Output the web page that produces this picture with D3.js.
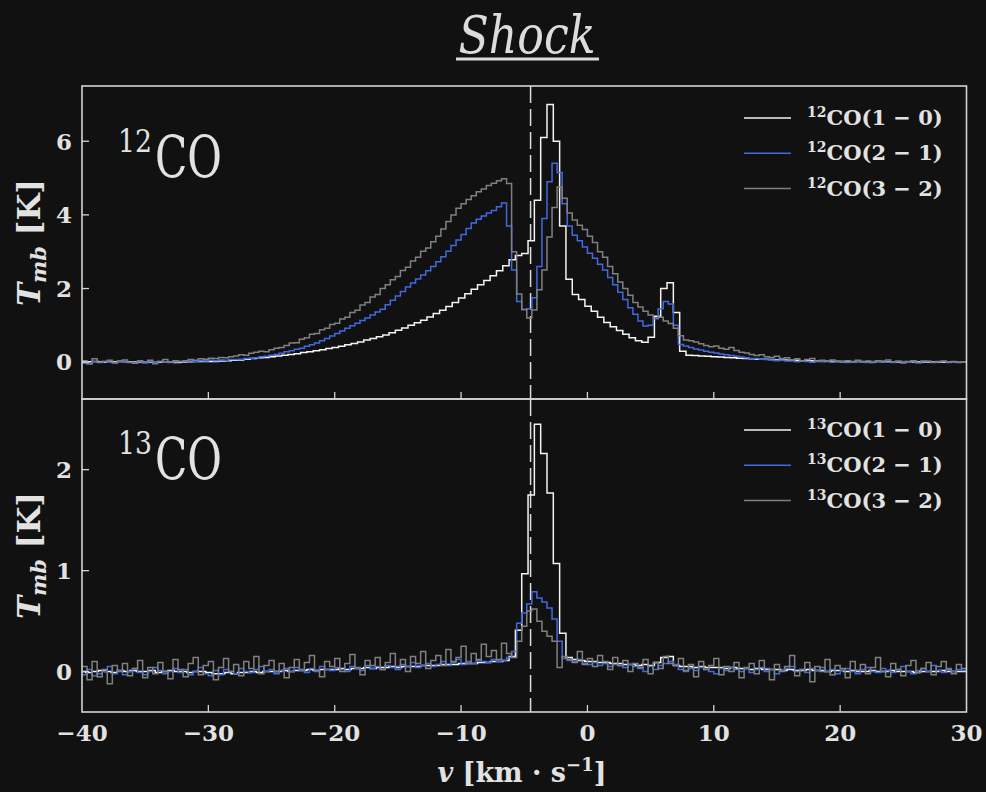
<!DOCTYPE html>
<html><head><meta charset="utf-8">
<script src="https://cdn.jsdelivr.net/npm/d3@7"></script>
<style>html,body{margin:0;padding:0;background:#111111;} svg{display:block;}</style>
</head><body><div id="chart"></div>
<script>
// ---------------- DATA ----------------
const titleText = "Shock";
const xDomain = [-40, 30];
const xTicks = [-40, -30, -20, -10, 0, 10, 20, 30];
const vSystemic = -4.5;            // dashed reference velocity (km/s)

// channel grids (velocity of first channel edge, channel width in km/s)
const grid10 = {start: -40.2, width: 0.5};   // (1-0) spectra
const gridHi = {start: -40.0, width: 0.4};   // (2-1) and (3-2) spectra

const yDomain12 = [-1, 7.5];
const yTicks12 = [0, 2, 4, 6];
const yDomain13 = [-0.4, 2.7];
const yTicks13 = [0, 1, 2];

const seriesNames12 = ["CO(1 \u2212 0)", "CO(2 \u2212 1)", "CO(3 \u2212 2)"];
const seriesNames13 = ["CO(1 \u2212 0)", "CO(2 \u2212 1)", "CO(3 \u2212 2)"];
const seriesColors = ["#f4f4f4", "#4169e1", "#808080"];

const co12_10 = [
0.02,0.01,0.02,0.01,0.00,0.01,0.02,0.01,0.01,0.00,
0.01,0.00,0.00,0.01,0.00,-0.01,0.00,0.01,0.02,0.02,
0.02,0.02,0.03,0.04,0.05,0.06,0.08,0.10,0.12,0.13,
0.15,0.17,0.19,0.21,0.23,0.26,0.28,0.31,0.34,0.37,
0.40,0.43,0.47,0.51,0.55,0.60,0.64,0.69,0.74,0.80,
0.87,0.93,1.00,1.07,1.14,1.23,1.32,1.41,1.51,1.62,
1.74,1.86,1.98,2.10,2.22,2.35,2.48,2.62,2.78,2.90,
2.95,3.30,4.40,6.10,7.00,6.00,3.70,2.25,1.84,1.70,
1.52,1.38,1.22,1.08,0.96,0.86,0.76,0.66,0.58,0.54,
0.68,1.25,2.00,2.16,1.35,0.30,0.19,0.18,0.17,0.16,
0.15,0.14,0.13,0.12,0.11,0.10,0.09,0.08,0.08,0.07,
0.06,0.06,0.05,0.05,0.04,0.04,0.03,0.03,0.03,0.02,
0.02,0.02,0.01,0.02,0.01,0.01,0.02,0.01,0.01,0.00,
0.01,0.00,0.01,0.00,0.00,0.01,0.00,0.00,0.01,0.00,0.00,0.00];

const co12_21 = [
-0.03,-0.02,0.01,-0.01,0.02,0.00,-0.01,0.01,0.02,-0.01,
0.00,0.01,-0.02,0.01,0.00,0.02,0.01,-0.01,0.01,0.02,
0.01,0.03,0.02,0.04,0.03,0.05,0.04,0.06,0.05,0.07,
0.07,0.08,0.10,0.11,0.12,0.15,0.16,0.19,0.21,0.24,
0.28,0.31,0.35,0.38,0.43,0.47,0.52,0.58,0.64,0.71,
0.78,0.85,0.92,0.99,1.06,1.13,1.20,1.28,1.36,1.44,
1.56,1.68,1.80,1.92,2.04,2.15,2.26,2.37,2.48,2.60,
2.73,2.86,3.01,3.17,3.32,3.47,3.63,3.78,3.88,3.97,
4.05,4.12,4.22,4.32,3.70,2.50,1.65,1.43,1.45,1.75,
2.60,3.90,4.90,5.40,5.15,4.30,3.70,3.45,3.30,3.13,
2.96,2.82,2.66,2.50,2.30,2.10,1.90,1.70,1.48,1.30,
1.12,0.98,1.00,1.18,1.45,1.65,1.58,1.00,0.48,0.44,
0.40,0.36,0.33,0.30,0.27,0.25,0.22,0.20,0.18,0.16,
0.14,0.12,0.10,0.10,0.08,0.07,0.06,0.04,0.05,0.03,
0.03,0.01,0.03,0.02,0.00,0.02,0.01,0.03,0.00,0.01,
0.02,-0.01,0.01,0.02,0.00,-0.01,0.02,0.01,0.03,0.00,
-0.01,0.01,0.02,0.00,0.01,-0.02,0.01,0.03,0.00,0.01,
0.02,-0.01,0.00,0.01,0.00];

const co12_32 = [
0.04,-0.05,0.09,0.00,0.02,0.05,-0.02,0.03,0.06,0.00,
-0.03,0.04,0.01,0.05,-0.04,0.02,0.07,0.00,0.04,0.02,
0.04,0.07,0.05,0.09,0.08,0.11,0.10,0.13,0.12,0.15,
0.17,0.20,0.19,0.24,0.27,0.30,0.28,0.34,0.38,0.40,
0.45,0.52,0.53,0.62,0.66,0.76,0.78,0.88,0.92,1.02,
1.06,1.17,1.22,1.35,1.41,1.55,1.62,1.77,1.84,2.00,
2.10,2.24,2.33,2.49,2.58,2.75,2.85,3.01,3.10,3.27,
3.42,3.62,3.82,4.00,4.18,4.30,4.42,4.52,4.63,4.70,
4.80,4.86,4.93,4.98,4.85,3.00,1.85,1.43,1.20,1.42,
1.97,2.50,3.40,4.20,4.76,4.45,4.05,3.86,3.72,3.60,
3.42,3.25,3.00,2.85,2.60,2.40,2.18,2.00,1.82,1.62,
1.50,1.38,1.28,1.20,1.22,1.12,1.05,0.92,0.72,0.60,
0.58,0.55,0.50,0.45,0.42,0.44,0.38,0.35,0.40,0.32,
0.27,0.25,0.21,0.18,0.20,0.15,0.13,0.16,0.10,0.12,
0.06,0.09,0.04,0.07,0.10,0.03,0.05,0.02,0.06,0.03,
0.00,0.04,0.02,0.05,0.01,0.03,-0.01,0.04,0.02,0.06,
0.01,0.03,-0.02,0.02,0.04,0.00,0.03,0.01,-0.01,0.02,
0.03,0.00,0.02,-0.01,0.01];

const co13_10 = [
0.00,-0.01,0.00,0.01,0.00,-0.01,0.01,0.00,0.01,0.00,
0.00,0.01,-0.01,0.00,0.01,0.00,0.00,-0.01,0.00,0.00,
-0.01,-0.02,-0.02,-0.01,-0.02,-0.01,-0.01,0.00,-0.01,0.00,
0.00,0.00,0.01,0.00,0.01,0.01,0.02,0.01,0.02,0.02,
0.02,0.03,0.02,0.03,0.03,0.04,0.03,0.04,0.04,0.05,
0.04,0.05,0.05,0.05,0.06,0.06,0.06,0.07,0.07,0.07,
0.08,0.08,0.08,0.09,0.09,0.10,0.10,0.11,0.15,0.41,
0.97,1.75,2.45,2.16,1.77,1.07,0.38,0.14,0.12,0.11,
0.10,0.10,0.09,0.09,0.08,0.08,0.07,0.07,0.06,0.07,
0.06,0.09,0.14,0.15,0.06,0.05,0.05,0.04,0.05,0.04,
0.04,0.04,0.03,0.04,0.03,0.03,0.02,0.03,0.02,0.02,
0.02,0.01,0.02,0.01,0.01,0.02,0.01,0.01,0.00,0.01,
0.01,0.00,0.01,0.00,0.00,0.01,0.00,0.00,0.01,0.00,
0.00,0.00,-0.01,0.00,0.00,0.00,0.01,0.00,0.00,0.00,0.00,0.00];

const co13_21 = [
-0.03,0.02,-0.04,-0.02,0.00,0.05,-0.02,0.01,-0.03,0.00,
0.03,-0.01,-0.03,0.00,0.04,0.01,-0.02,0.00,0.03,-0.01,
0.02,-0.03,0.00,0.04,-0.02,-0.04,0.01,-0.03,0.02,0.00,
-0.02,0.03,0.00,-0.01,0.02,0.05,0.00,0.02,-0.02,0.01,
0.03,0.00,0.04,0.01,-0.01,0.03,0.00,0.05,0.02,0.01,
0.04,0.02,0.00,0.05,0.03,0.01,0.06,0.03,0.05,0.02,
0.06,0.04,0.02,0.07,0.05,0.09,0.04,0.06,0.08,0.05,
0.07,0.10,0.06,0.09,0.12,0.07,0.10,0.08,0.11,0.10,
0.09,0.12,0.10,0.11,0.14,0.20,0.48,0.58,0.67,0.79,
0.73,0.69,0.63,0.52,0.30,0.13,0.11,0.10,0.12,0.08,
0.07,0.09,0.06,0.08,0.05,0.07,0.06,0.04,0.07,0.05,
0.03,0.00,0.05,0.02,0.06,0.08,0.10,0.07,0.02,0.00,
0.03,0.01,0.04,0.02,0.00,-0.02,0.03,0.01,0.04,0.02,
0.00,0.03,-0.01,0.02,0.04,0.00,0.02,-0.02,0.01,0.03,
0.05,0.00,0.02,-0.01,0.03,0.01,0.04,0.00,0.02,-0.02,
0.01,0.03,0.00,-0.02,0.02,0.04,0.00,-0.01,0.03,0.01,
-0.01,0.02,0.05,0.00,-0.02,0.01,0.03,0.00,0.06,0.01,
-0.01,0.03,0.00,0.02,0.01];

const co13_32 = [
0.05,-0.08,0.10,-0.05,0.02,-0.12,0.06,0.00,0.08,-0.04,
0.03,0.11,-0.06,0.04,-0.02,0.09,0.00,-0.07,0.12,0.02,
-0.05,0.08,0.14,-0.03,0.06,0.10,-0.08,0.04,0.13,0.00,
0.07,-0.04,0.10,0.03,0.15,-0.02,0.06,0.11,0.00,0.08,
-0.06,0.04,0.12,0.02,0.09,0.16,0.01,-0.05,0.10,0.05,
0.13,0.00,0.08,0.17,0.04,-0.03,0.11,0.06,0.14,0.02,
0.09,0.18,0.05,0.12,0.00,0.15,0.08,0.20,0.03,0.11,
0.16,0.06,0.22,0.10,0.14,0.25,0.08,0.18,0.12,0.27,
0.15,0.21,0.12,0.28,0.18,0.14,0.30,0.45,0.60,0.62,
0.50,0.40,0.35,0.30,0.04,0.15,0.12,0.09,0.20,0.07,
0.13,0.05,0.16,0.10,0.02,0.14,0.06,0.11,0.00,0.08,
0.04,0.12,-0.02,0.09,0.03,0.15,0.08,0.06,0.13,0.01,
0.07,-0.05,0.10,0.02,0.06,0.13,-0.03,0.05,0.00,0.09,
-0.06,0.04,0.08,-0.02,0.11,0.03,-0.08,0.07,0.00,0.05,
0.16,-0.04,0.02,0.09,-0.10,0.05,0.00,0.12,-0.03,0.06,
0.03,-0.06,0.10,0.01,0.07,-0.02,0.04,0.14,0.00,-0.05,
0.08,0.02,-0.04,0.06,0.11,-0.01,0.03,0.09,-0.03,0.05,
0.10,0.02,-0.02,0.07,0.03];

// ---------------- DRAWING ----------------
const W = 986, H = 792;
const SERIF = "'DejaVu Serif', serif";
const TEXT = "#e2e2e2";
const FRAME = "#d4d4d4";

const svg = d3.select('#chart').append('svg').attr('width', W).attr('height', H);
svg.append('rect').attr('width', W).attr('height', H).attr('fill', '#111111');

const left = 82, right = 966.5;
const x = d3.scaleLinear().domain(xDomain).range([left, right]);

function toSteps(grid, vals) {
  const pts = vals.map((v, i) => [grid.start + i * grid.width, v]);
  pts.push([grid.start + vals.length * grid.width, vals[vals.length - 1]]);
  return pts;
}

const panels = [
  {id: 'p12', top: 86, bottom: 399, domain: yDomain12, ticks: yTicks12, iso: '12',
   series: [[grid10, co12_10], [gridHi, co12_21], [gridHi, co12_32]], names: seriesNames12,
   legendY: 118, labelBase: 177, xLabels: false},
  {id: 'p13', top: 399, bottom: 712, domain: yDomain13, ticks: yTicks13, iso: '13',
   series: [[grid10, co13_10], [gridHi, co13_21], [gridHi, co13_32]], names: seriesNames13,
   legendY: 430, labelBase: 479, xLabels: true}
];

const defs = svg.append('defs');

panels.forEach(p => {
  const y = d3.scaleLinear().domain(p.domain).range([p.bottom, p.top]);
  defs.append('clipPath').attr('id', 'clip-' + p.id)
    .append('rect').attr('x', left).attr('y', p.top).attr('width', right - left).attr('height', p.bottom - p.top);

  const g = svg.append('g').attr('clip-path', `url(#clip-${p.id})`);
  const line = d3.line().x(d => x(d[0])).y(d => y(d[1])).curve(d3.curveStepAfter);

  // systemic velocity dashed line
  g.append('line')
    .attr('x1', x(vSystemic)).attr('x2', x(vSystemic))
    .attr('y1', p.top).attr('y2', p.bottom)
    .attr('stroke', '#dddddd').attr('stroke-width', 1.5)
    .attr('stroke-dasharray', '17,6');

  p.series.forEach((s, i) => {
    g.append('path').datum(toSteps(s[0], s[1]))
      .attr('d', line).attr('fill', 'none')
      .attr('stroke', seriesColors[i]).attr('stroke-width', 1.5)
      .attr('stroke-linejoin', 'miter');
  });

  // frame
  svg.append('rect').attr('x', left).attr('y', p.top)
    .attr('width', right - left).attr('height', p.bottom - p.top)
    .attr('fill', 'none').attr('stroke', FRAME).attr('stroke-width', 1.6);

  // y ticks (inward)
  p.ticks.forEach(t => {
    svg.append('line').attr('x1', left).attr('x2', left + 7)
      .attr('y1', y(t)).attr('y2', y(t)).attr('stroke', FRAME).attr('stroke-width', 1.3);
    svg.append('text').attr('x', left - 10).attr('y', y(t)).attr('dy', '0.36em')
      .attr('text-anchor', 'end').attr('fill', TEXT)
      .attr('font-family', SERIF).attr('font-weight', 'bold').attr('font-size', 23)
      .text(d3.format('d')(t));
  });

  // x ticks (inward, bottom)
  xTicks.forEach(t => {
    if (t === xDomain[0] || t === xDomain[1]) return;
    svg.append('line').attr('x1', x(t)).attr('x2', x(t))
      .attr('y1', p.bottom).attr('y2', p.bottom - 7).attr('stroke', FRAME).attr('stroke-width', 1.3);
  });
  if (p.xLabels) {
    xTicks.forEach(t => {
      svg.append('text').attr('x', x(t)).attr('y', p.bottom + 29)
        .attr('text-anchor', 'middle').attr('fill', TEXT)
        .attr('font-family', SERIF).attr('font-weight', 'bold').attr('font-size', 23)
        .text(d3.format('d')(t));
    });
  }

  // y axis label
  const cy = (p.top + p.bottom) / 2;
  const yl = svg.append('text').attr('transform', `translate(40,${cy}) rotate(-90)`)
    .attr('text-anchor', 'middle').attr('fill', TEXT).attr('font-family', SERIF).attr('font-weight', 'bold');
  yl.append('tspan').attr('font-style', 'italic').attr('font-size', 31).text('T');
  yl.append('tspan').attr('font-style', 'italic').attr('font-size', 21).attr('dy', 6).text('mb');
  yl.append('tspan').attr('font-size', 31).attr('dy', -6).text('\u00a0[K]');

  // isotopologue label
  svg.append('text').attr('x', 118).attr('y', p.labelBase - 25)
    .attr('fill', TEXT).attr('font-family', "'DejaVu Serif Condensed','DejaVu Serif',serif")
    .attr('font-size', 31).attr('textLength', 34).attr('lengthAdjust', 'spacingAndGlyphs')
    .text(p.iso);
  svg.append('text').attr('x', 155).attr('y', p.labelBase)
    .attr('fill', TEXT).attr('font-family', "'DejaVu Serif Condensed','DejaVu Serif',serif")
    .attr('font-size', 58).attr('textLength', 67).attr('lengthAdjust', 'spacingAndGlyphs')
    .text('CO');

  // legend
  p.names.forEach((n, i) => {
    const ly = p.legendY + i * 35.3;
    svg.append('line').attr('x1', 744).attr('x2', 791).attr('y1', ly).attr('y2', ly)
      .attr('stroke', seriesColors[i]).attr('stroke-width', 1.5);
    const t = svg.append('text').attr('x', 807).attr('y', ly + 7).attr('fill', TEXT)
      .attr('font-family', SERIF).attr('font-weight', 'bold');
    t.append('tspan').attr('font-size', 14).attr('dy', -8).text(p.iso);
    t.append('tspan').attr('font-size', 21).attr('dy', 8).text(n);
  });
});

// x axis label
const xl = svg.append('text').attr('x', 522).attr('y', 782).attr('text-anchor', 'middle')
  .attr('fill', TEXT).attr('font-family', SERIF).attr('font-weight', 'bold').attr('font-size', 27);
xl.append('tspan').attr('font-style', 'italic').text('v');
xl.append('tspan').text('\u00a0[km\u00a0\u00b7\u00a0s');
xl.append('tspan').attr('font-size', 18).attr('dy', -11).text('\u22121');
xl.append('tspan').attr('dy', 11).text(']');

// title
svg.append('text').attr('x', 527).attr('y', 53).attr('text-anchor', 'middle')
  .attr('fill', '#dcdcdc').attr('font-family', "'DejaVu Serif Condensed','DejaVu Serif',serif")
  .attr('font-style', 'italic').attr('font-size', 52)
  .attr('textLength', 137).attr('lengthAdjust', 'spacingAndGlyphs')
  .text(titleText);
svg.append('line').attr('x1', 456).attr('x2', 599).attr('y1', 59).attr('y2', 59)
  .attr('stroke', '#dcdcdc').attr('stroke-width', 3);
</script></body></html>
